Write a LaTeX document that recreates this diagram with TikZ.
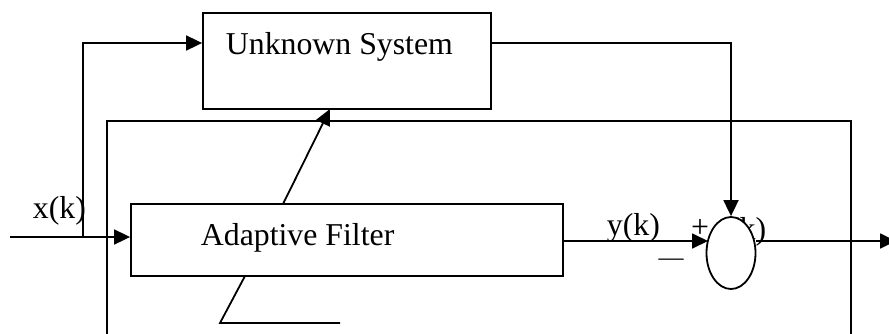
\documentclass[tikz,border=0pt]{standalone}
\usepackage{fontspec}
\setmainfont{Liberation Serif}
\usetikzlibrary{arrows.meta,shapes.geometric}
\begin{document}
\begin{tikzpicture}[x=1pt,y=-1pt,line width=1.8pt,
  tip/.style={-{Triangle[length=16pt,width=15pt]}},
  block/.style={draw,rectangle,inner sep=0pt},
  lbl/.style={inner sep=0pt,font=\fontsize{31.8}{36}\selectfont},
  sumnode/.style={draw,ellipse,fill=white,inner sep=0pt,minimum width=49pt,minimum height=72pt}]
\useasboundingbox (0,0) rectangle (889,333);

% blocks
\node[block,minimum width=288pt,minimum height=96pt] (us) at (347,61) {};
\node[block,minimum width=432pt,minimum height=72pt] (af) at (347,240) {};
\node[lbl,anchor=base west] (ustxt) at (225,54) {Unknown System};
\node[lbl,anchor=base west] (aftxt) at (200,245) {Adaptive Filter};

% signal labels
\node[lbl,anchor=base west] (xk) at (32,218) {x(k)};
\node[lbl,anchor=base west] (yk) at (606,235) {y(k)};
\node[lbl,anchor=base west] (ek) at (714,239) {e(k)};
\node[lbl] (plus) at (700,229) {+};
\node[lbl,font=\fontsize{25}{30}\selectfont] (minus) at (671,262) {—};

% summing junction (drawn over the error label)
\node[sumnode] (sum) at (731,253) {};

% helper points
\coordinate (in) at (10,237);
\coordinate (br) at (83,237);
\coordinate (usin) at (83,43);
\coordinate (usout) at (491,43);
\coordinate (turn) at (731,43);
\coordinate (tapA) at (283,204);
\coordinate (tapB) at (330,109);
\coordinate (fbTL) at (107,121);
\coordinate (fbTR) at (851,121);
\coordinate (fbBL) at (107,335);
\coordinate (fbBR) at (851,335);
\coordinate (stA) at (245,276);
\coordinate (stB) at (220,323);
\coordinate (stC) at (340,323);
\coordinate (yin) at (563,241);
\coordinate (yend) at (708,241);
\coordinate (eout) at (756,241);
\coordinate (out) at (896,241);

% input paths
\draw[tip] (in) -- (in -| af.west);
\draw[tip] (br) -- (usin) -- (usin -| us.west);

% unknown system output to junction
\draw[tip] (usout) -- (turn) -- (sum.north);

% adaptation arrow and step line
\draw[tip] (tapA) -- (tapB);
\draw (stA) -- (stB) -- (stC);

% error feedback loop
\draw (fbBL) -- (fbTL) -- (fbTR) -- (fbBR);

% filter output and error output
\draw[tip] (yin) -- (yend);
\draw[tip] (eout) -- (out);
\end{tikzpicture}
\end{document}
